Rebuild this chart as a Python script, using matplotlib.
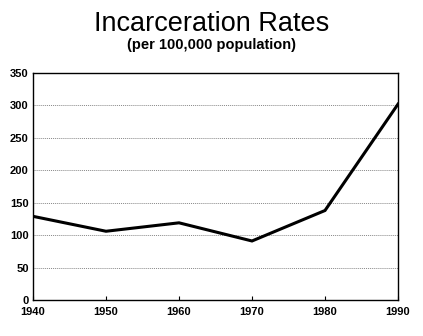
import matplotlib.pyplot as plt

years = [1940, 1950, 1960, 1970, 1980, 1990]
rates = [129, 106, 119, 91, 138, 302]
y_ticks = [0, 50, 100, 150, 200, 250, 300, 350]

plt.rcParams['font.family'] = ['Liberation Sans', 'DejaVu Sans']

fig = plt.figure(figsize=(4.23, 3.36), dpi=100)
ax = fig.add_axes([33 / 423, 1 - 300 / 336, 365 / 423, 227 / 336])

for v in y_ticks[1:-1]:
    ax.axhline(v, color='#888888', lw=0.7, ls=(0, (1, 1)), zorder=1)

ax.plot(years, rates, color='black', lw=2.2, solid_joinstyle='miter', zorder=3)

ax.set_xlim(1940, 1990)
ax.set_ylim(0, 350)
ax.set_xticks(years)
ax.set_yticks(y_ticks)
ax.tick_params(axis='x', direction='in', length=3, width=0.8, pad=5, labelsize=8)
ax.tick_params(axis='y', length=0, pad=3, labelsize=8)
for lbl in ax.get_xticklabels() + ax.get_yticklabels():
    lbl.set_fontweight('bold')
for s in ax.spines.values():
    s.set_linewidth(1.0)

fig.text(0.5, 1 - 24 / 336, 'Incarceration Rates', ha='center', va='center', fontsize=19.5)
fig.text(0.5, 1 - 45 / 336, '(per 100,000 population)', ha='center', va='center',
         fontsize=10.5, fontweight='bold')

fig.savefig('out.png', dpi=100)
